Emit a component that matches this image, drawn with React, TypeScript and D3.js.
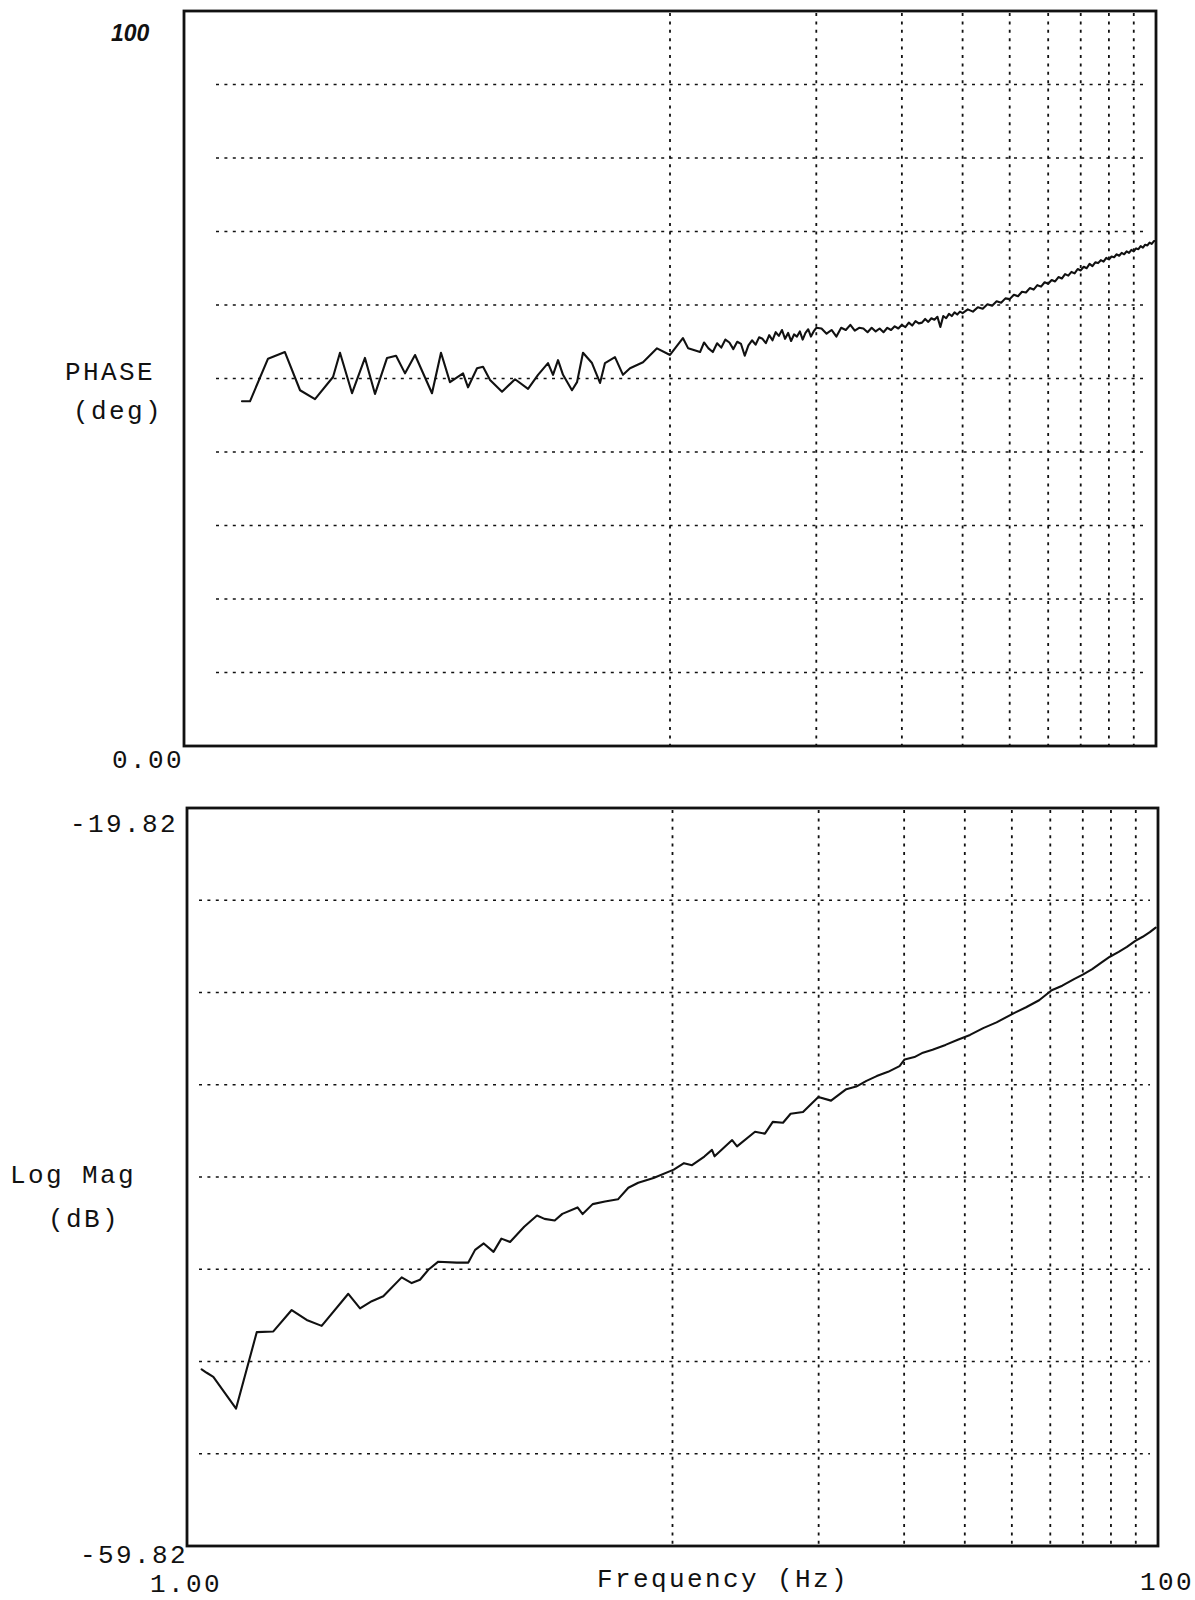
import React from "react";
import * as d3 from "d3";

// Frequency axis (Hz), log scale over two decades
const FREQ_DOMAIN = [1, 100];
const FREQ_GRID = [10, 20, 30, 40, 50, 60, 70, 80, 90];
const FREQ_LABELS = ["1.00", "100"];

// Phase panel (deg)
const PHASE_DOMAIN = [0, 100];
const PHASE_GRID = [10, 20, 30, 40, 50, 60, 70, 80, 90];
const PHASE_LABELS = ["100", "0.00"];

// Log magnitude panel (dB)
const MAG_DOMAIN = [-59.82, -19.82];
const MAG_GRID = [-24.82, -29.82, -34.82, -39.82, -44.82, -49.82, -54.82];
const MAG_LABELS = ["-19.82", "-59.82"];

// Measured phase response
const PHASE_FREQ = [
  1.316, 1.367, 1.489, 1.613, 1.733, 1.86, 2.026, 2.094, 2.217, 2.357, 2.472, 2.617, 2.731, 2.85, 2.988,
  3.238, 3.379, 3.526, 3.751, 3.841, 4.008, 4.124, 4.263, 4.512, 4.799, 5.104, 5.351, 5.61, 5.745, 5.883,
  6.024, 6.285, 6.437, 6.622, 6.91, 7.178, 7.349, 7.705, 8.003, 8.274, 8.8, 9.403, 10.0, 10.63, 10.9,
  11.15, 11.53,
  11.75, 12.0, 12.25, 12.5, 12.75, 13.0, 13.25, 13.5, 13.75, 14.0, 14.25, 14.5, 14.75, 15.0, 15.25, 15.5,
  15.75, 16.0, 16.25, 16.5, 16.75, 17.0, 17.25, 17.5, 17.75, 18.0, 18.25, 18.5, 18.75, 19.0, 19.25, 19.5,
  19.75, 20.0,
  20.5, 21.0, 21.5, 22.0, 22.5, 23.0, 23.5, 24.0, 24.5, 25.0, 25.5, 26.0, 26.5, 27.0, 27.5, 28.0, 28.5,
  29.0, 29.5, 30.0, 30.5, 31.0, 31.5, 32.0, 32.5, 33.0, 33.5, 34.0, 34.5, 35.0, 35.5, 36.0, 36.5, 37.0,
  37.5, 38.0, 38.5, 39.0, 39.5, 40.0,
  41, 42, 43, 44, 45, 46, 47, 48, 49, 50, 51, 52, 53, 54, 55, 56, 57, 58, 59, 60, 61, 62, 63, 64, 65,
  66, 67, 68, 69, 70, 71, 72, 73, 74, 75, 76, 77, 78, 79, 80, 81, 82, 83, 84, 85, 86, 87, 88, 89, 90,
  91, 92, 93, 94, 95, 96, 97, 98, 99, 100,
];
const PHASE_DEG = [
  46.9, 46.9, 52.7, 53.6, 48.4, 47.2, 50.2, 53.5, 48.0, 52.8, 47.9, 52.8, 53.1, 50.7, 53.2,
  48.0, 53.5, 49.5, 50.7, 48.8, 51.4, 51.6, 49.8, 48.2, 49.9, 48.6, 50.5, 52.1, 50.5, 52.5,
  50.5, 48.4, 49.5, 53.5, 52.1, 49.4, 52.1, 52.9, 50.5, 51.4, 52.2, 54.1, 53.2, 55.5, 54.1,
  53.9, 53.6,
  54.9, 54.1, 53.6, 54.8, 54.2, 55.3, 54.9, 54.0, 55.0, 54.7, 53.1, 54.5, 55.2, 54.6, 55.6, 55.4,
  54.8, 55.9, 55.2, 56.3, 55.8, 56.6, 55.4, 56.2, 55.1, 56.0, 55.7, 56.4, 55.3, 56.2, 56.7, 55.7,
  56.4, 56.9,
  56.8, 56.1, 56.6, 55.7, 56.9, 56.6, 57.3, 56.5, 56.9, 56.8, 56.3, 56.9, 56.4, 56.8, 56.3, 56.9, 56.6,
  57.1, 56.8, 57.3, 57.0, 57.6, 57.2, 57.8, 57.5, 57.6, 58.1, 57.7, 58.2, 58.0, 58.4, 57.0, 58.5, 58.2,
  58.8, 58.5, 59.0, 58.7, 59.1, 58.9,
  59.4, 59.1, 59.7, 59.5, 60.1, 59.9, 60.5, 60.3, 60.9, 60.8, 61.4, 61.2, 61.8, 61.7, 62.3, 62.1, 62.7,
  62.5, 63.1, 62.9, 63.4, 63.2, 63.8, 63.6, 64.2, 64.0, 64.5, 64.3, 64.9, 64.7, 65.2, 65.0, 65.6, 65.3,
  65.8, 65.7, 66.1, 65.9, 66.4, 66.2, 66.6, 66.5, 66.9, 66.7, 67.1, 66.9, 67.3, 67.1, 67.5, 67.3, 67.7,
  67.6, 68.0, 67.8, 68.2, 68.1, 68.5, 68.3, 68.7, 68.7,
];

// Measured log magnitude response
const MAG_FREQ = [
  1.072, 1.098, 1.133, 1.262, 1.392, 1.506, 1.643, 1.764, 1.894, 2.149, 2.272, 2.402, 2.537, 2.768,
  2.903, 3.019, 3.141, 3.293, 3.594, 3.797, 3.921, 4.085, 4.279, 4.442, 4.628, 4.949, 5.259, 5.449,
  5.72, 5.93, 6.374, 6.53, 6.848, 7.26, 7.72, 8.11, 8.5, 9.14, 10.06, 10.56, 10.97, 11.63, 12.06,
  12.21, 13.27, 13.58, 14.79, 15.5, 16.09, 16.89, 17.51, 18.57, 19.97, 21.21, 22.8, 23.9, 25.09,
  26.34, 27.8, 29.35, 30.07, 31.5, 32.8, 34.32, 36.5, 38.69, 41.0, 43.65, 46.5, 50.4, 53.5, 56.9,
  60.4, 63.5, 67.3, 70.0, 73.2, 76.3, 79.6, 83.0, 86.3, 89.8, 93.0, 96.2, 98.9,
];
const MAG_DB = [
  -50.25, -50.43, -50.65, -52.37, -48.23, -48.19, -47.03, -47.57, -47.89, -46.15, -46.94, -46.55,
  -46.28, -45.26, -45.57, -45.39, -44.85, -44.41, -44.46, -44.46, -43.77, -43.42, -43.88, -43.16,
  -43.34, -42.52, -41.91, -42.09, -42.18, -41.82, -41.47, -41.83, -41.29, -41.15, -41.03, -40.4,
  -40.13, -39.87, -39.42, -39.07, -39.18, -38.71, -38.35, -38.7, -37.82, -38.16, -37.37, -37.47,
  -36.83, -36.88, -36.39, -36.3, -35.49, -35.68, -35.06, -34.92, -34.61, -34.35, -34.12, -33.81,
  -33.45, -33.32, -33.08, -32.92, -32.66, -32.38, -32.12, -31.75, -31.44, -30.95, -30.62, -30.24,
  -29.7, -29.45, -29.08, -28.85, -28.55, -28.22, -27.88, -27.62, -27.35, -27.02, -26.8, -26.55, -26.3,
];

const W = 1195;
const H = 1600;
const MONO = "'Liberation Mono', 'DejaVu Sans Mono', monospace";
const INK = "#111";

type Box = { left: number; right: number; top: number; bottom: number };

const phaseBox: Box = { left: 184, right: 1156, top: 11, bottom: 746 };
const magBox: Box = { left: 187, right: 1158, top: 808, bottom: 1546 };

function Panel({
  box,
  yDomain,
  yGrid,
  freqs,
  values,
  gridStart,
  traceWidth,
}: {
  box: Box;
  yDomain: number[];
  yGrid: number[];
  freqs: number[];
  values: number[];
  gridStart: number;
  traceWidth: number;
}) {
  const x = d3.scaleLog().domain(FREQ_DOMAIN).range([box.left, box.right]);
  const y = d3.scaleLinear().domain(yDomain).range([box.bottom, box.top]);
  const pts = freqs.map((f, i) => [f, values[i]] as [number, number]);
  const line = d3
    .line<[number, number]>()
    .x((d) => x(d[0]))
    .y((d) => y(d[1]));

  return (
    <g>
      {yGrid.map((v) => (
        <line
          key={"h" + v}
          x1={box.left + gridStart}
          x2={box.right - 8}
          y1={y(v)}
          y2={y(v)}
          stroke={INK}
          strokeWidth={1.7}
          strokeDasharray="3 5.4"
        />
      ))}
      {FREQ_GRID.map((f) => (
        <line
          key={"v" + f}
          x1={x(f)}
          x2={x(f)}
          y1={box.top + 2}
          y2={box.bottom}
          stroke={INK}
          strokeWidth={1.8}
          strokeDasharray="3 5.4"
        />
      ))}
      <path
        d={line(pts) || ""}
        fill="none"
        stroke={INK}
        strokeWidth={traceWidth}
        strokeLinejoin="round"
        strokeLinecap="round"
      />
      <rect
        x={box.left}
        y={box.top}
        width={box.right - box.left}
        height={box.bottom - box.top}
        fill="none"
        stroke={INK}
        strokeWidth={2.8}
      />
    </g>
  );
}

export default function App() {
  const textStyle = { fontFamily: MONO, fontSize: 26, letterSpacing: 2.4, fill: INK } as const;
  return (
    <svg
      width={W}
      height={H}
      viewBox={`0 0 ${W} ${H}`}
      style={{ position: "absolute", left: 0, top: 0, display: "block", background: "#fff" }}
    >
      <rect x={0} y={0} width={W} height={H} fill="#fff" />
      <Panel
        box={phaseBox}
        yDomain={PHASE_DOMAIN}
        yGrid={PHASE_GRID}
        freqs={PHASE_FREQ}
        values={PHASE_DEG}
        gridStart={32}
        traceWidth={2.1}
      />
      <Panel
        box={magBox}
        yDomain={MAG_DOMAIN}
        yGrid={MAG_GRID}
        freqs={MAG_FREQ}
        values={MAG_DB}
        gridStart={12}
        traceWidth={2.1}
      />

      {/* phase panel labels */}
      <text
        x={111}
        y={41}
        style={{ fontFamily: "'Liberation Sans', sans-serif", fontSize: 23, fontStyle: "italic", fontWeight: 700, fill: INK }}
      >
        {PHASE_LABELS[0]}
      </text>
      <text x={112} y={768} style={textStyle}>{PHASE_LABELS[1]}</text>
      <text x={65} y={380} style={textStyle}>PHASE</text>
      <text x={73} y={419} style={textStyle}>(deg)</text>

      {/* magnitude panel labels */}
      <text x={70} y={832} style={textStyle}>{MAG_LABELS[0]}</text>
      <text x={80} y={1563} style={textStyle}>{MAG_LABELS[1]}</text>
      <text x={10} y={1183} style={textStyle}>Log Mag</text>
      <text x={48} y={1227} style={textStyle}>(dB)</text>

      {/* frequency axis labels */}
      <text x={150} y={1592} style={textStyle}>{FREQ_LABELS[0]}</text>
      <text x={597} y={1587} style={textStyle}>Frequency (Hz)</text>
      <text x={1140} y={1590} style={textStyle}>{FREQ_LABELS[1]}</text>
    </svg>
  );
}
